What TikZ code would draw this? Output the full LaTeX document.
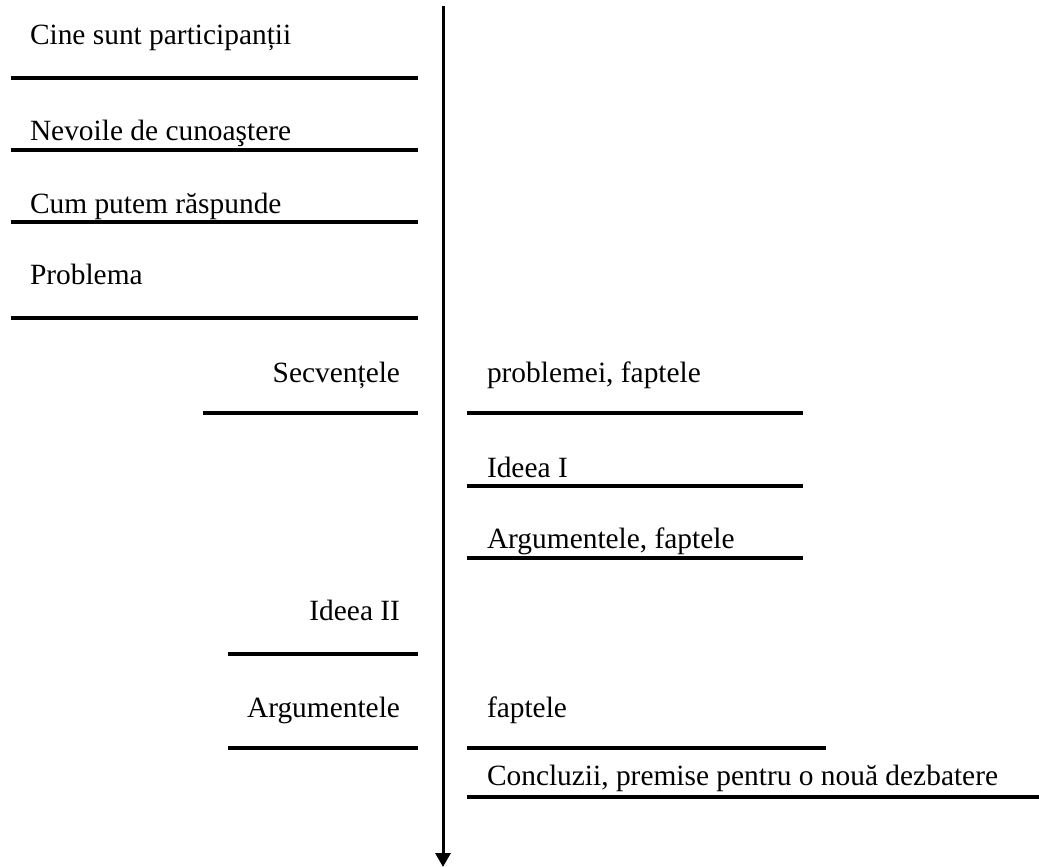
\documentclass[tikz,border=0pt]{standalone}
\usepackage{fontspec}
\setmainfont{Liberation Serif}
\usetikzlibrary{arrows.meta}

\begin{document}
\begin{tikzpicture}[x=1pt,y=-1pt,
  rule/.style={line width=3.2pt},
  axis/.style={line width=3pt,-{Triangle[width=15pt,length=14pt]}},
  lbl/.style={inner sep=0pt,outer sep=0pt,font=\fontsize{29.4}{34}\selectfont},
  lw/.style={lbl,anchor=base west},
  le/.style={lbl,anchor=base east}]
\useasboundingbox (0,0) rectangle (1039,867);

% time axis
\coordinate (top) at (443,6);
\coordinate (bot) at (443,867);
\draw[axis] (top) -- (bot);

% left column
\node[lw] (cine) at (30,45) {Cine sunt participanții};
\draw[rule] (11,78) -- (418,78);
\node[lw] (nevoi) at (30,140) {Nevoile de cunoaştere};
\draw[rule] (11,150) -- (418,150);
\node[lw] (cum) at (30,213) {Cum putem răspunde};
\draw[rule] (11,222) -- (418,222);
\node[lw] (prob) at (30,284) {Problema};
\draw[rule] (11,318) -- (418,318);

\node[le] (secv) at (400,382) {Secvențele};
\draw[rule] (203,413) -- (418,413);
\node[le] (ideea2) at (400,620) {Ideea II};
\draw[rule] (228,654) -- (418,654);
\node[le] (arg2) at (400,717) {Argumentele};
\draw[rule] (228,748) -- (418,748);

% right column
\node[lw] (probf) at (487,382) {problemei, faptele};
\draw[rule] (467,413) -- (803,413);
\node[lw] (ideea1) at (487,477) {Ideea I};
\draw[rule] (467,486) -- (803,486);
\node[lw] (arg1) at (487,548) {Argumentele, faptele};
\draw[rule] (467,558) -- (803,558);
\node[lw] (fapt) at (487,717) {faptele};
\draw[rule] (467,748) -- (826,748);
\node[lw] (concl) at (487,785) {Concluzii, premise pentru o nouă dezbatere};
\draw[rule] (467,797) -- (1039,797);
\end{tikzpicture}
\end{document}
